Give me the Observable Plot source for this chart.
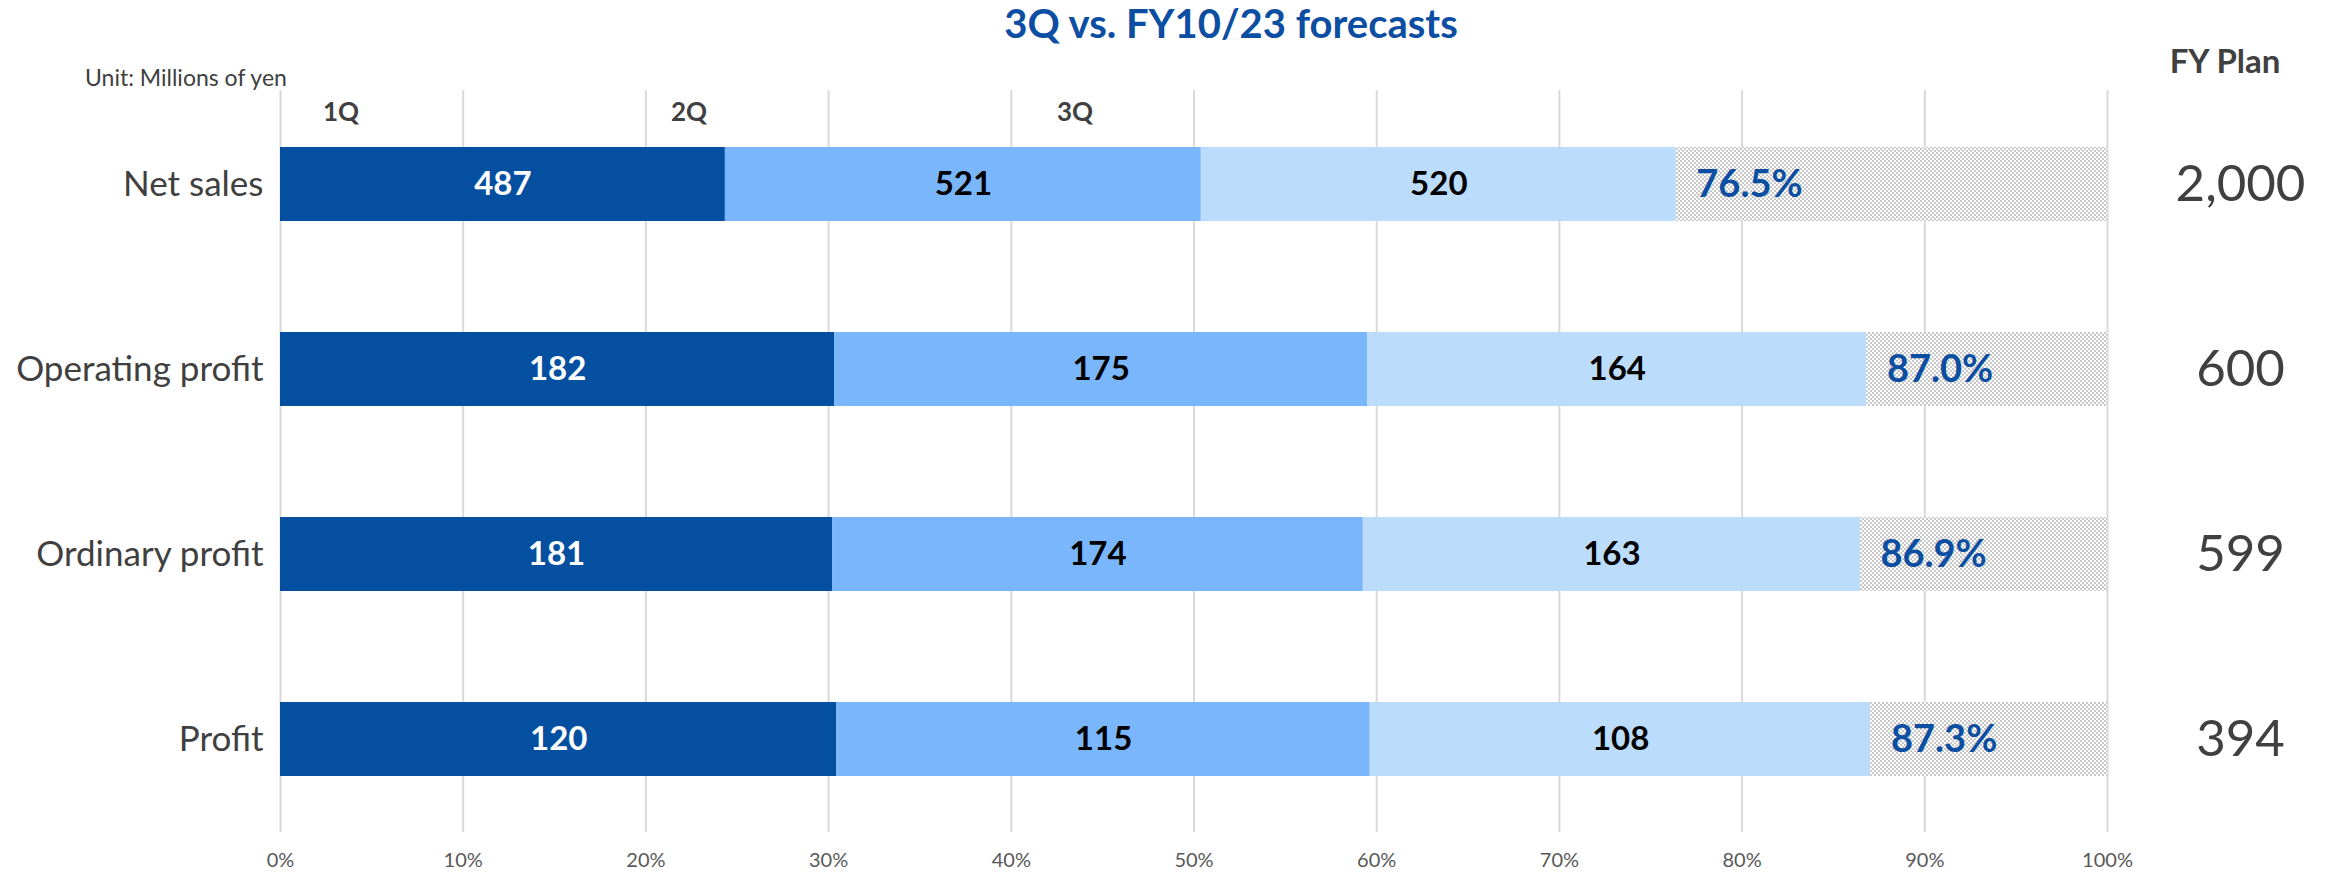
<!DOCTYPE html>
<html>
<head>
<meta charset="utf-8">
<script src="https://cdn.jsdelivr.net/npm/d3@7"></script>
<script src="https://cdn.jsdelivr.net/npm/@observablehq/plot@0.6"></script>
<style>
  html, body { margin: 0; padding: 0; background: #fff; }
  #wrap { position: relative; width: 2334px; height: 874px; overflow: hidden; font-family: Lato, "Open Sans", sans-serif; }
  #wrap svg { position: absolute; left: 0; top: 0; }
  .lbl { position: absolute; line-height: 1; white-space: nowrap; }
</style>
</head>
<body>
<div id="wrap"></div>
<script>
// ---- data ----
const categories = ["Net sales", "Operating profit", "Ordinary profit", "Profit"];
const quarters = ["1Q", "2Q", "3Q"];
const q1Values = [487, 182, 181, 120];
const q2Values = [521, 175, 174, 115];
const q3Values = [520, 164, 163, 108];
const fyPlan = [2000, 600, 599, 394];
const progressPct = [76.5, 87.0, 86.9, 87.3];
const xTicks = [0, 0.1, 0.2, 0.3, 0.4, 0.5, 0.6, 0.7, 0.8, 0.9, 1];
const quarterColors = ["#054FA1", "#7AB6FB", "#BCDCFC"];
const titleText = "3Q vs. FY10/23 forecasts";
const unitText = "Unit: Millions of yen";
const planHeader = "FY Plan";

// ---- derived tables ----
const series = [q1Values, q2Values, q3Values];
const rows = [];
const remain = [];
categories.forEach((cat, i) => {
  let cum = 0;
  quarters.forEach((q, j) => {
    const v = series[j][i];
    const share = v / fyPlan[i];
    rows.push({cat, q, value: v, x1: cum, x2: cum + share});
    cum += share;
  });
  remain.push({cat, done: cum, full: fyPlan[i] / fyPlan[i], plan: fyPlan[i], pct: progressPct[i]});
});

const svg = Plot.plot({
  width: 2334,
  height: 874,
  marginLeft: 280,
  marginRight: 227,
  marginTop: 90,
  marginBottom: 42,
  style: {fontFamily: "Lato, 'Open Sans', sans-serif", fontSize: "20px", color: "#595959", background: "transparent"},
  x: {domain: [0, 1], ticks: xTicks, tickFormat: d3.format(".0%"), tickSize: 0, tickPadding: 20, label: null},
  y: {domain: categories, paddingInner: 0.6, paddingOuter: 0.3, tickSize: 0, tickPadding: 17, label: null},
  color: {domain: quarters, range: quarterColors},
  marks: [
    Plot.ruleX(xTicks, {stroke: "#d9d9d9", strokeWidth: 2}),
    Plot.barX(rows, {x1: "x1", x2: "x2", y: "cat", fill: "q"}),
    Plot.barX(remain, {x1: "done", x2: "full", y: "cat", fill: "url(#dots)"}),
    Plot.text(rows.filter(r => r.q === "1Q"), {x: r => (r.x1 + r.x2) / 2, y: "cat", text: r => String(r.value), fill: "white", fontWeight: "bold", fontSize: 33}),
    Plot.text(rows.filter(r => r.q !== "1Q"), {x: r => (r.x1 + r.x2) / 2, y: "cat", text: r => String(r.value), fill: "black", fontWeight: "bold", fontSize: 33}),
    Plot.text(remain, {x: "done", y: "cat", text: d => d.pct.toFixed(1) + "%", textAnchor: "start", dx: 20, fill: "#0B4EA2", fontWeight: "bold", fontSize: 38}),
    Plot.text(remain, {y: "cat", frameAnchor: "right", dx: 133, textAnchor: "middle", text: d => d3.format(",")(d.plan), fill: "#404040", fontSize: 51})
  ]
});

// dotted pattern for the remaining part of the plan
const defs = d3.select(svg).insert("defs", ":first-child");
const pat = defs.append("pattern").attr("id", "dots").attr("patternUnits", "userSpaceOnUse").attr("width", 4).attr("height", 4);
pat.append("rect").attr("width", 4).attr("height", 4).attr("fill", "#ffffff");
pat.append("rect").attr("x", 0).attr("y", 0).attr("width", 2).attr("height", 2).attr("fill", "#c8c8c8");
pat.append("rect").attr("x", 2).attr("y", 2).attr("width", 2).attr("height", 2).attr("fill", "#c8c8c8");

// axis label styling
d3.select(svg).selectAll('g[aria-label^="y-axis"] text').attr("font-size", 35).attr("fill", "#404040");
d3.select(svg).selectAll('g[aria-label^="x-axis"] text').attr("font-size", 20).attr("fill", "#595959");

const wrap = document.getElementById("wrap");
wrap.appendChild(svg);

function place(text, x, baseline, size, weight, color, anchor) {
  const d = document.createElement("div");
  d.className = "lbl";
  d.textContent = text;
  d.style.fontSize = size + "px";
  d.style.fontWeight = weight;
  d.style.color = color;
  d.style.top = (baseline - 0.887 * size) + "px";
  d.style.left = x + "px";
  if (anchor === "middle") d.style.transform = "translateX(-50%)";
  wrap.appendChild(d);
}
place(titleText, 1231, 38, 40, "bold", "#0B4EA2", "middle");
place(unitText, 85, 86, 23, "normal", "#404040", "start");
place(planHeader, 2225, 73, 33, "bold", "#404040", "middle");
const quarterLabelX = [341, 689, 1075];
quarters.forEach((q, i) => place(q, quarterLabelX[i], 121, 26, "bold", "#404040", "middle"));
</script>
</body>
</html>
